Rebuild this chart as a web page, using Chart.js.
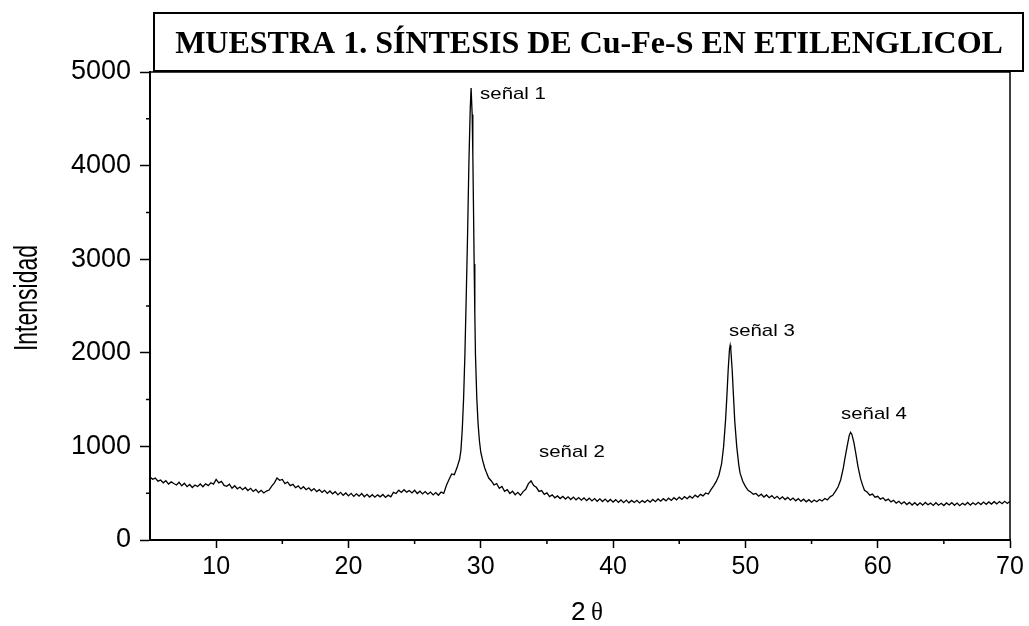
<!DOCTYPE html>
<html>
<head>
<meta charset="utf-8">
<style>
  html, body { margin: 0; padding: 0; background: #fff; }
  #xrd { display: block; }
</style>
<script src="https://cdn.jsdelivr.net/npm/chart.js@4/dist/chart.umd.min.js"></script>
</head>
<body>
<canvas id="xrd" width="1029" height="626"></canvas>
<script>
// Difractograma, muestra 1 (Cu-Fe-S en etilenglicol)
var twoTheta = [
    5.0, 5.2, 5.4, 5.6, 5.8,  6.0, 6.2, 6.4, 6.6, 6.8,  7.0, 7.2, 7.4, 7.6, 7.8,
    8.0, 8.2, 8.4, 8.6, 8.8,  9.0, 9.2, 9.4, 9.6, 9.8,  10.0, 10.2, 10.4, 10.6, 10.8,
    11.0, 11.2, 11.4, 11.6, 11.8,  12.0, 12.2, 12.4, 12.6, 12.8,  13.0, 13.2, 13.4, 13.6, 13.8,
    14.0, 14.2, 14.4, 14.6, 14.8,  15.0, 15.2, 15.4, 15.6, 15.8,  16.0, 16.2, 16.4, 16.6, 16.8,
    17.0, 17.2, 17.4, 17.6, 17.8,  18.0, 18.2, 18.4, 18.6, 18.8,  19.0, 19.2, 19.4, 19.6, 19.8,
    20.0, 20.2, 20.4, 20.6, 20.8,  21.0, 21.2, 21.4, 21.6, 21.8,  22.0, 22.2, 22.4, 22.6, 22.8,
    23.0, 23.2, 23.4, 23.6, 23.8,  24.0, 24.2, 24.4, 24.6, 24.8,  25.0, 25.2, 25.4, 25.6, 25.8,
    26.0, 26.2, 26.4, 26.6, 26.8,  27.0, 27.2, 27.4, 27.6, 27.8,
    28.0, 28.2, 28.4, 28.5, 28.6, 28.7, 28.8, 28.9,
    29.0, 29.1, 29.2, 29.27, 29.35, 29.4, 29.45, 29.5, 29.55, 29.6, 29.7, 29.8, 29.9,
    30.0, 30.15, 30.3, 30.4, 30.6, 30.8,
    31.0, 31.2, 31.4, 31.6, 31.8,  32.0, 32.2, 32.4, 32.6, 32.8,  33.0, 33.2, 33.4, 33.6, 33.8,
    34.0, 34.2, 34.4, 34.6, 34.8,  35.0, 35.2, 35.4, 35.6, 35.8,  36.0, 36.2, 36.4, 36.6, 36.8,
    37.0, 37.2, 37.4, 37.6, 37.8,  38.0, 38.2, 38.4, 38.6, 38.8,  39.0, 39.2, 39.4, 39.6, 39.8,
    40.0, 40.2, 40.4, 40.6, 40.8,  41.0, 41.2, 41.4, 41.6, 41.8,  42.0, 42.2, 42.4, 42.6, 42.8,
    43.0, 43.2, 43.4, 43.6, 43.8,  44.0, 44.2, 44.4, 44.6, 44.8,  45.0, 45.2, 45.4, 45.6, 45.8,
    46.0, 46.2, 46.4, 46.6, 46.8,  47.0, 47.2, 47.4, 47.6, 47.8,
    48.0, 48.2, 48.35, 48.5, 48.6, 48.7, 48.8, 48.85, 48.9,
    49.0, 49.1, 49.2, 49.35, 49.5, 49.6, 49.8,
    50.0, 50.2, 50.4, 50.6, 50.8,  51.0, 51.2, 51.4, 51.6, 51.8,  52.0, 52.2, 52.4, 52.6, 52.8,
    53.0, 53.2, 53.4, 53.6, 53.8,  54.0, 54.2, 54.4, 54.6, 54.8,  55.0, 55.2, 55.4, 55.6, 55.8,
    56.0, 56.2, 56.4, 56.6, 56.8,
    57.0, 57.2, 57.4, 57.5, 57.7, 57.85, 57.95, 58.05, 58.2, 58.35, 58.5, 58.7, 58.85,
    59.0, 59.2, 59.4, 59.6, 59.8,  60.0, 60.2, 60.4, 60.6, 60.8,  61.0, 61.2, 61.4, 61.6, 61.8,
    62.0, 62.2, 62.4, 62.6, 62.8,  63.0, 63.2, 63.4, 63.6, 63.8,  64.0, 64.2, 64.4, 64.6, 64.8,
    65.0, 65.2, 65.4, 65.6, 65.8,  66.0, 66.2, 66.4, 66.6, 66.8,  67.0, 67.2, 67.4, 67.6, 67.8,
    68.0, 68.2, 68.4, 68.6, 68.8,  69.0, 69.2, 69.4, 69.6, 69.8,  70.0
];
var intensity = [
    672, 648, 661, 629, 640,  611, 634, 598, 621, 603,  588, 617, 579, 606, 570,
    593, 561, 587, 572, 598,  569, 601, 581, 612, 597,  648, 611, 626, 583, 574,
    596, 552, 579, 547, 566,  538, 561, 529, 552, 519,  541, 507, 531, 502, 523,
    534, 576, 611, 662, 638,  647, 602, 619, 581, 594,  559, 578, 546, 569, 537,
    558, 526, 549, 517, 538,  509, 531, 498, 524, 493,  516, 482, 509, 477, 502,
    471, 498, 466, 493, 469,  497, 462, 488, 459, 484,  457, 482, 461, 486, 455,
    479, 462, 509, 497, 532,  508, 537, 511, 529, 503,  531, 497, 522, 492, 517,
    489, 512, 482, 507, 478,  511, 498, 583, 647, 706,
    698, 771, 862, 958, 1176, 1505, 1975, 2590,
    3240, 4010, 4590, 4830, 4545, 4115, 3550, 2950, 2415, 1975, 1515, 1235, 1058,
    938, 846, 769, 731, 662, 631,
    588, 603, 552, 571, 521,  538, 497, 521, 484, 509,  478, 517, 541, 602, 631,
    581, 563, 519, 528, 487,  503, 463, 482, 451, 471,  443, 466, 438, 461, 432,
    458, 429, 453, 426, 450,  421, 447, 418, 443, 414,  440, 411, 437, 408, 433,
    405, 431, 402, 428, 399,  426, 397, 423, 401, 424,  396, 421, 402, 427, 405,
    433, 409, 438, 414, 441,  418, 447, 423, 452, 429,  458, 434, 463, 441, 468,
    447, 479, 458, 488, 471,  502, 491, 538, 579, 626,
    692, 812, 992, 1278, 1532, 1818, 2040, 2080, 2032,
    1822, 1538, 1262, 992, 803, 714, 628,
    573, 531, 512, 489, 497,  468, 489, 459, 481, 452,  474, 444, 467, 437, 461,
    432, 455, 426, 448, 419,  442, 413, 436, 408, 431,  404, 428, 409, 433, 417,
    444, 428, 461, 478, 519,
    566, 641, 768, 854, 1008, 1118, 1150, 1128, 1042, 923, 792, 658, 589,
    531, 512, 479, 491, 458,  467, 436, 451, 421, 437,  407, 425, 394, 414, 386,
    408, 379, 402, 374, 399,  371, 397, 373, 401, 376,  394, 369, 398, 372, 393,
    368, 396, 374, 399, 371,  395, 367, 392, 375, 401,  373, 398, 377, 403, 379,
    405, 381, 407, 384, 409,  386, 411, 388, 414, 391,  415
];

var minorX = [15, 25, 35, 45, 55, 65];
var minorY = [500, 1500, 2500, 3500, 4500];

var peakLabels = ['señal 1', 'señal 2', 'señal 3', 'señal 4'];
var peakLabelAt = [[29.95, 4711], [34.4, 882], [48.76, 2176], [57.23, 1289]];

var chartTitle = 'MUESTRA 1. SÍNTESIS DE Cu-Fe-S EN ETILENGLICOL';
var yTitle = 'Intensidad';

(function () {
    var sans = "'Liberation Sans', Arial, sans-serif";
    var serif = "'Liberation Serif', 'Times New Roman', serif";

    var points = twoTheta.map(function (t, i) { return { x: t, y: intensity[i] }; });

    // text in the original export is a little wider than the font's own metrics
    function wideText(ctx, text, x, y, stretch) {
        ctx.save();
        ctx.translate(x, y);
        ctx.scale(stretch, 1);
        ctx.fillText(text, 0, 0);
        ctx.restore();
    }

    var decorations = {
        id: 'decorations',
        afterDraw: function (chart) {
            var ctx = chart.ctx, a = chart.chartArea;
            var xs = chart.scales.x, ys = chart.scales.y;
            ctx.save();
            ctx.strokeStyle = '#000';
            ctx.fillStyle = '#000';

            // top and right edges of the frame
            ctx.lineWidth = 1.5;
            ctx.beginPath();
            ctx.moveTo(a.left, a.top);
            ctx.lineTo(a.right, a.top);
            ctx.lineTo(a.right, a.bottom);
            ctx.stroke();

            // minor ticks
            ctx.beginPath();
            minorX.forEach(function (v) {
                var px = xs.getPixelForValue(v);
                ctx.moveTo(px, a.bottom);
                ctx.lineTo(px, a.bottom + 4);
            });
            minorY.forEach(function (v) {
                var py = ys.getPixelForValue(v);
                ctx.moveTo(a.left, py);
                ctx.lineTo(a.left - 4, py);
            });
            ctx.stroke();

            // title box
            ctx.fillStyle = '#fff';
            ctx.fillRect(154, 13, 869, 58);
            ctx.lineWidth = 2;
            ctx.strokeRect(154, 13, 869, 58);
            ctx.fillStyle = '#000';
            ctx.font = 'bold 32px ' + serif;
            ctx.textAlign = 'center';
            ctx.textBaseline = 'alphabetic';
            ctx.fillText(chartTitle, 589, 53);

            // peak labels
            ctx.font = '17px ' + sans;
            ctx.textAlign = 'left';
            peakLabels.forEach(function (txt, i) {
                var p = peakLabelAt[i];
                wideText(ctx, txt, xs.getPixelForValue(p[0]), ys.getPixelForValue(p[1]), 1.2);
            });

            // y axis title
            ctx.save();
            ctx.translate(37, 298);
            ctx.rotate(-Math.PI / 2);
            ctx.scale(1, 1.45);
            ctx.font = '23px ' + sans;
            ctx.textAlign = 'center';
            ctx.fillText(yTitle, 0, 0);
            ctx.restore();

            // x axis title: "2" then a serif theta
            ctx.textAlign = 'left';
            ctx.font = '25px ' + sans;
            wideText(ctx, '2', 571, 620, 1.05);
            ctx.font = '25px ' + serif;
            ctx.fillText('\u03b8', 591, 620);

            ctx.restore();
        }
    };

    new Chart(document.getElementById('xrd'), {
        type: 'line',
        data: {
            datasets: [{
                data: points,
                borderColor: '#000',
                borderWidth: 1.3,
                pointRadius: 0,
                tension: 0,
                fill: false
            }]
        },
        options: {
            responsive: false,
            animation: false,
            events: [],
            layout: { padding: { top: 72, right: 19, left: 0, bottom: 0 } },
            plugins: { legend: { display: false }, tooltip: { enabled: false } },
            scales: {
                x: {
                    type: 'linear',
                    min: 5,
                    max: 70,
                    afterFit: function (scale) { scale.height = 86; },
                    border: { display: true, color: '#000', width: 2 },
                    grid: { drawOnChartArea: false, color: '#000', tickColor: '#000', tickLength: 8, tickWidth: 1.5 },
                    ticks: {
                        stepSize: 10,
                        autoSkip: false,
                        maxRotation: 0,
                        padding: 4,
                        color: '#000',
                        font: { family: sans, size: 25 },
                        callback: function (v) { return v % 10 === 0 ? String(v) : null; }
                    }
                },
                y: {
                    min: 0,
                    max: 5000,
                    afterFit: function (scale) { scale.width = 150; },
                    border: { display: true, color: '#000', width: 2 },
                    grid: { drawOnChartArea: false, color: '#000', tickColor: '#000', tickLength: 10, tickWidth: 1.5 },
                    ticks: {
                        stepSize: 1000,
                        padding: 9,
                        color: '#000',
                        font: { family: sans, size: 27 },
                        callback: function (v) { return String(v); }
                    }
                }
            }
        },
        plugins: [decorations]
    });
})();
</script>
</body>
</html>
